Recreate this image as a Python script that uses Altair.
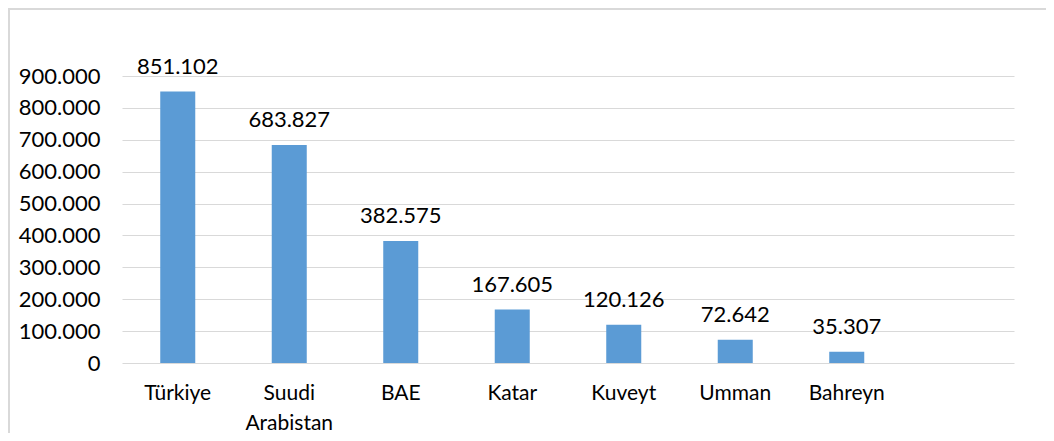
import altair as alt
import pandas as pd

countries = ["Türkiye", "Suudi Arabistan", "BAE", "Katar", "Kuveyt", "Umman", "Bahreyn"]
values = [851102, 683827, 382575, 167605, 120126, 72642, 35307]
x_domain = countries + [""]
y_ticks = [0, 100000, 200000, 300000, 400000, 500000, 600000, 700000, 800000, 900000]

df = pd.DataFrame({"country": countries, "value": values})

FONT = "Lato"
FS = 22
W, H = 892, 287

x_scale = alt.Scale(domain=x_domain, paddingInner=0.686, paddingOuter=0.343)
y_scale = alt.Scale(domain=[0, 900000], nice=False, zero=True)

x_enc = alt.X(
    "country:N",
    sort=None,
    scale=x_scale,
    axis=alt.Axis(
        title=None, domain=False, ticks=False, grid=False, labelAngle=0,
        labelFont=FONT, labelFontSize=21, labelColor="#000000",
        labelPadding=19, labelLineHeight=30, labelBaseline="top",
        labelExpr="split(datum.label, ' ')", labelOverlap=False,
    ),
)
y_enc = alt.Y(
    "value:Q",
    scale=y_scale,
    axis=alt.Axis(
        title=None, domain=False, ticks=False, values=y_ticks, format=",d",
        labelFont=FONT, labelFontSize=FS, labelColor="#000000", labelPadding=22,
        labelOverlap=False, labelBound=False, labelFlush=False,
        gridColor="#d9d9d9", gridWidth=1,
    ),
)

base = alt.Chart(df).encode(x=x_enc, y=y_enc)
bars = base.mark_bar(color="#5B9BD5")
labels = base.mark_text(
    font=FONT, fontSize=FS, color="#000000", baseline="alphabetic", dy=-18
).encode(text=alt.Text("value:Q", format=",d"))

frame_left = alt.Chart(df).mark_rule(color="#d9d9d9", strokeWidth=2, clip=False).encode(
    x=alt.value(-113), y=alt.value(-68), y2=alt.value(360))
frame_top = alt.Chart(df).mark_rule(color="#d9d9d9", strokeWidth=2, clip=False).encode(
    x=alt.value(-114), x2=alt.value(925), y=alt.value(-67))

chart = alt.layer(bars, labels, frame_left, frame_top).properties(
    width=W, height=H,
    autosize=alt.AutoSizeParams(type="none"),
    padding={"left": 114, "top": 68, "right": 32, "bottom": 70},
).configure(
    locale={"number": {"decimal": ",", "thousands": ".", "grouping": [3], "currency": ["", ""]}}
).configure_view(stroke=None)

chart.save("out.html", embed_options={"renderer": "svg", "actions": False})
